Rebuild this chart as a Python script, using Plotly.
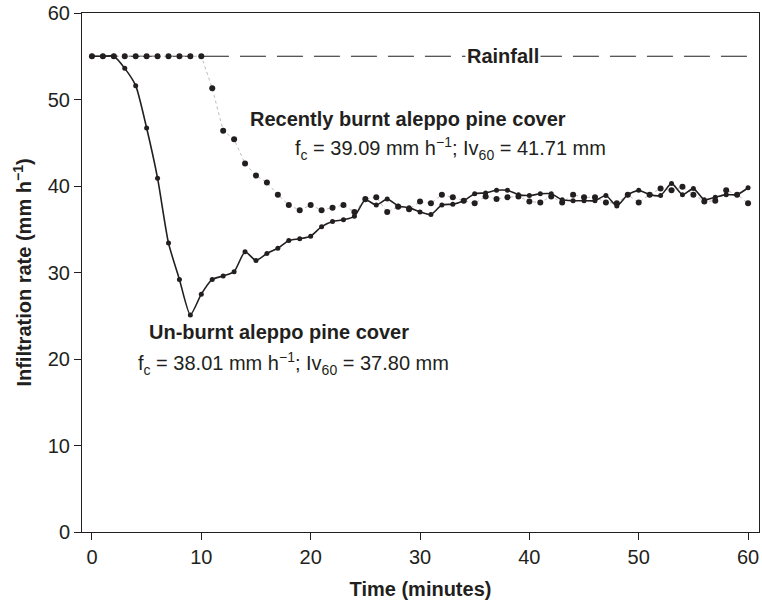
import plotly.graph_objects as go

# Time in minutes (one reading per minute)
minutes = list(range(0, 61))

# Infiltration rate (mm h-1), un-burnt aleppo pine cover
unburnt = [55, 55, 55, 53.6, 51.6, 46.7, 40.9, 33.4, 29.2, 25.1,
           27.5, 29.2, 29.6, 30.1, 32.4, 31.4, 32.2, 32.8, 33.7, 33.9,
           34.2, 35.3, 35.9, 36.1, 36.5, 38.4, 37.8, 38.5, 37.7, 37.5,
           37.0, 36.7, 37.8, 37.9, 38.3, 39.1, 39.2, 39.5, 39.5, 39.0,
           38.9, 39.1, 39.1, 38.4, 38.3, 38.3, 38.3, 38.9, 37.7, 39.0,
           39.5, 39.0, 38.9, 40.3, 39.0, 39.7, 38.4, 38.7, 39.0, 39.0,
           39.8]

# Infiltration rate (mm h-1), recently burnt aleppo pine cover
burnt = [55, 55, 55, 55, 55, 55, 55, 55, 55, 55,
         55, 51.3, 46.4, 45.4, 42.6, 41.2, 40.4, 39.0, 37.8, 37.2,
         37.8, 37.2, 37.5, 37.8, 37.0, 38.5, 38.7, 37.0, 37.6, 37.3,
         38.2, 38.0, 39.0, 38.7, 38.3, 38.0, 38.8, 38.5, 38.7, 38.8,
         38.2, 38.1, 38.8, 38.1, 39.0, 38.7, 38.7, 38.1, 38.0, 39.0,
         38.1, 39.0, 39.7, 39.5, 39.9, 39.0, 38.2, 38.3, 39.5, 39.0,
         38.0]

# Rainfall intensity applied
rain_t = [0, 60]
rain_rate = [55, 55]

FONT = "Liberation Sans, Arial, Helvetica, sans-serif"
INK = "#231f20"
FS = 20

fig = go.Figure()

fig.add_trace(go.Scatter(
    x=rain_t, y=rain_rate, mode="lines",
    line=dict(color=INK, width=1.2, dash="26px,11px"),
    hoverinfo="skip", showlegend=False))

fig.add_trace(go.Scatter(
    x=minutes, y=burnt, mode="lines+markers",
    line=dict(color="#b4b4b4", width=0.9, dash="dot"),
    marker=dict(color=INK, size=6),
    showlegend=False))

fig.add_trace(go.Scatter(
    x=minutes, y=unburnt, mode="lines+markers",
    line=dict(color=INK, width=1.6, shape="spline", smoothing=0.6),
    marker=dict(color=INK, size=5),
    showlegend=False))

annos = [
    dict(x=37.6, y=55, text="<b>Rainfall</b>", bgcolor="white",
         borderpad=1, xanchor="center", yanchor="middle"),
    dict(x=14.25, y=47.8, text="<b>Recently burnt aleppo pine cover</b>",
         xanchor="left", yanchor="middle"),
    dict(x=18.35, y=44.3,
         text="f<sub>c</sub> = 39.09 mm h<sup>\u22121</sup>; Iv<sub>60</sub> = 41.71 mm",
         xanchor="left", yanchor="middle"),
    dict(x=5.0, y=23.1, text="<b>Un-burnt aleppo pine cover</b>",
         xanchor="left", yanchor="middle"),
    dict(x=4.0, y=19.5,
         text="f<sub>c</sub> = 38.01 mm h<sup>\u22121</sup>; Iv<sub>60</sub> = 37.80 mm",
         xanchor="left", yanchor="middle"),
]
for a in annos:
    fig.add_annotation(showarrow=False, font=dict(family=FONT, size=FS, color=INK), **a)

axis_common = dict(
    showline=True, linecolor=INK, linewidth=1, mirror=True,
    ticks="outside", ticklen=7, tickwidth=1, tickcolor=INK,
    showgrid=False, zeroline=False,
    tickfont=dict(family=FONT, size=FS, color=INK),
)

fig.update_xaxes(range=[-0.91, 61.0], tickvals=[0, 10, 20, 30, 40, 50, 60],
                 title=dict(text="<b>Time (minutes)</b>", standoff=14,
                            font=dict(family=FONT, size=FS, color=INK)),
                 **axis_common)
fig.update_yaxes(range=[0, 60], tickvals=[0, 10, 20, 30, 40, 50, 60],
                 title=dict(text="<b>Infiltration rate (mm h<sup>\u22121</sup>)</b>", standoff=10,
                            font=dict(family=FONT, size=FS, color=INK)),
                 **axis_common)

fig.update_layout(
    width=762, height=605,
    margin=dict(l=82, r=2, t=11, b=73),
    paper_bgcolor="white", plot_bgcolor="white",
    font=dict(family=FONT, size=FS, color=INK),
)

fig.write_html("out.html")
